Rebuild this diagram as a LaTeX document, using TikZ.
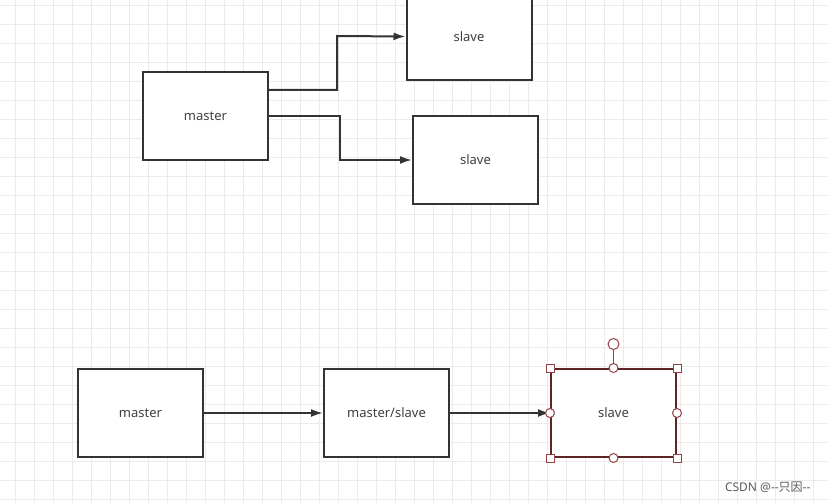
\documentclass[tikz,border=0pt]{standalone}
\usepackage{fontspec}
\setmainfont{Noto Sans}
\newfontfamily\cjk{Noto Sans CJK SC}
\usetikzlibrary{arrows.meta}
\begin{document}
\begin{tikzpicture}[x=1pt,y=-1pt,
 box/.style={draw=black!80,line width=2pt,fill=white,minimum width=125pt,minimum height=88pt,inner sep=0pt,font=\fontsize{13}{15}\selectfont,text=black!75},
 arr/.style={draw=black!80,line width=2pt,-{Latex[length=12pt,width=8pt]}},
 hs/.style={draw=red!45!black!75,fill=white,line width=1pt}]
\useasboundingbox (0,0) rectangle (828,503);
\begin{scope}
\clip (0,0) rectangle (828,503);
\foreach \x in {15,34,...,828} \draw[black!8,line width=0.9pt] (\x,0) -- (\x,503);
\foreach \y in {5,24,...,503} \draw[black!8,line width=0.9pt] (0,\y) -- (828,\y);
\node[box] (m1) at (205.5,116) {master};
\node[box] (s1) at (469,36.5) {slave};
\node[box] (s2) at (475.5,160) {slave};
\end{scope}
\draw[arr] ([yshift=26pt]m1.east) -| (337,36) -- (s1.west);
\draw[arr] (m1.east) -| (340,160) -- (s2.west);
\node[box] (m2) at (140.5,413) {master};
\node[box] (ms) at (386.5,413) {master/slave};
\node[box,draw=red!25!black!85] (s3) at (613.5,413) {slave};
\draw[arr] (m2) -- (ms);
\draw[arr] (ms) -- (s3);
\coordinate (rot) at (613.5,344);
\draw[red!45!black!75,line width=1pt] (s3.north) -- (rot);
\draw[hs] (rot) circle (5.5pt);
\foreach \a in {north west,north east,south west,south east}
  \draw[hs] ([shift={(-4pt,-4pt)}]s3.\a) rectangle ++(8pt,8pt);
\foreach \a in {north,south,east,west}
  \draw[hs] (s3.\a) circle (4.5pt);
\node[anchor=east,font=\fontsize{12}{14}\selectfont,text=black!65] (wm) at (814,487) {CSDN @{-}{-}{\cjk 只因}{-}{-}};
\end{tikzpicture}
\end{document}
